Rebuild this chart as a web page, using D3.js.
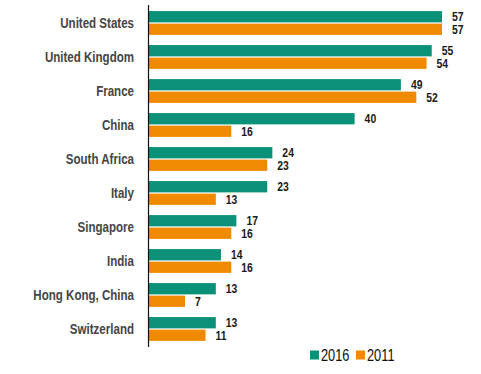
<!DOCTYPE html>
<html>
<head>
<meta charset="utf-8">
<script src="https://cdn.jsdelivr.net/npm/d3@7"></script>
<style>
  body { margin: 0; background: #fff; }
  svg text { font-family: "Liberation Sans Narrow", "Arial Narrow", "Liberation Sans", Arial, sans-serif; }
</style>
</head>
<body>
<div id="chart"></div>
<script>
const countries = ["United States", "United Kingdom", "France", "China", "South Africa",
    "Italy", "Singapore", "India", "Hong Kong, China", "Switzerland"];
const years = ["2016", "2011"];
const values2016 = [57, 55, 49, 40, 24, 23, 17, 14, 13, 13];
const values2011 = [57, 54, 52, 16, 23, 13, 16, 16, 7, 11];
const colors = ["#0a9177", "#f08a00"];

const width = 481, height = 374;
const x0 = 149;
// no narrow font installed, so squeeze text horizontally
const squeeze = 0.8;

const svg = d3.select("#chart").append("svg")
    .attr("width", width)
    .attr("height", height);

const y = d3.scaleBand()
    .domain(countries)
    .range([6, 346])
    .paddingInner(0.3)
    .paddingOuter(0.15);

const sub = d3.scaleBand()
    .domain(years)
    .range([0, y.bandwidth()])
    .paddingInner(0.1);

const x = d3.scaleLinear()
    .domain([0, 57])
    .range([x0, x0 + 293]);

const rows = countries.map((c, i) => ({ country: c, vals: [values2016[i], values2011[i]] }));

const g = svg.selectAll("g.row")
    .data(rows)
    .enter().append("g")
    .attr("class", "row")
    .attr("transform", d => "translate(0," + y(d.country) + ")");

g.selectAll("rect")
    .data(d => d.vals.map((v, j) => ({ year: years[j], v: v, j: j })))
    .enter().append("rect")
    .attr("x", x(0))
    .attr("y", d => sub(d.year))
    .attr("width", d => x(d.v) - x(0))
    .attr("height", sub.bandwidth())
    .attr("fill", d => colors[d.j]);

// value labels, nudged apart a touch so the pair doesn't collide
g.selectAll("text.val")
    .data(d => d.vals.map((v, j) => ({ year: years[j], v: v, j: j })))
    .enter().append("text")
    .attr("class", "val")
    .attr("transform", d => "translate(" + (x(d.v) + 10) + "," + (sub(d.year) + sub.bandwidth() / 2 + (d.j ? 0.5 : -0.5)) + ") scale(" + squeeze + ",1)")
    .attr("dy", "0.36em")
    .attr("font-size", 13)
    .attr("font-weight", "bold")
    .attr("fill", "#1a1a1a")
    .text(d => d.v);

// category labels
g.append("text")
    .attr("transform", "translate(134," + (y.bandwidth() / 2) + ") scale(0.77,1)")
    .attr("dy", "0.36em")
    .attr("text-anchor", "end")
    .attr("font-size", 15)
    .attr("font-weight", "bold")
    .attr("fill", "#454545")
    .text(d => d.country);

// axis line
svg.append("line")
    .attr("x1", x0 - 0.5).attr("x2", x0 - 0.5)
    .attr("y1", 5).attr("y2", 347)
    .attr("stroke", "#111")
    .attr("stroke-width", 1.2);

// legend
const legend = svg.append("g").attr("transform", "translate(310,355)");
const lx = [0, 46];
years.forEach((yr, j) => {
    const item = legend.append("g").attr("transform", "translate(" + lx[j] + ",0)");
    item.append("rect")
        .attr("x", 0).attr("y", -4.5)
        .attr("width", 9).attr("height", 9)
        .attr("fill", colors[j]);
    item.append("text")
        .attr("transform", "translate(11,0) scale(0.8,1)")
        .attr("dy", "0.36em")
        .attr("font-size", 16)
        .attr("fill", "#111")
        .text(yr);
});
</script>
</body>
</html>
